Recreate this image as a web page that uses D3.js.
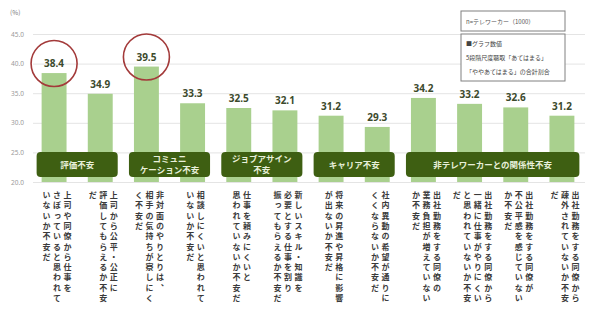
<!DOCTYPE html>
<html>
<head>
<meta charset="utf-8">
<script src="https://cdn.jsdelivr.net/npm/d3@7"></script>
<style>
  html, body { margin: 0; padding: 0; background: #fff; }
  svg { display: block; }
  text { font-family: "Noto Sans CJK JP", "Noto Sans", sans-serif; }
</style>
</head>
<body>
<svg id="chart" width="590" height="320"></svg>
<script>
// ---- data ----
const categories = [
  "上司や同僚から仕事を|さぼっていると思われて|いないか不安だ",
  "上司から公平・公正に|評価してもらえるか不安|だ",
  "非対面のやりとりは、|相手の気持ちが察しにく|く不安だ",
  "相談しにくいと思われて|いないか不安だ",
  "仕事を頼みにくいと|思われていないか不安だ",
  "新しいスキル・知識を|必要とする仕事を割り|振ってもらえるか不安だ",
  "将来の昇進や昇格に影響|が出ないか不安だ",
  "社内異動の希望が通りに|くくならないか不安だ",
  "出社勤務をする同僚の|業務負担が増えていない|か不安だ",
  "出社勤務をする同僚から|一緒に仕事がやりにくい|と思われていないか不安|だ",
  "出社勤務をする同僚が|不公平感を感じていない|か不安だ",
  "出社勤務をする同僚から|疎外されていないか不安|だ"
];
const values = [38.4, 34.9, 39.5, 33.3, 32.5, 32.1, 31.2, 29.3, 34.2, 33.2, 32.6, 31.2];
const groupNames = ["評価不安", "コミュニ|ケーション不安", "ジョブアサイン|不安", "キャリア不安", "非テレワーカーとの関係性不安"];
const groupFirst = [0, 2, 4, 6, 8];
const groupLast  = [1, 3, 5, 7, 11];
const highlighted = [0, 2];
const yTicks = [20, 25, 30, 35, 40, 45];
const unitLabel = "(%)";
const noteSample = "n=テレワーカー（1000）";
const noteLines = ["■グラフ数値", "5段階尺度聴取「あてはまる」", "「ややあてはまる」の合計割合"];

// ---- chart ----
const svg = d3.select("#chart");
const x = d3.scaleBand().domain(categories).range([31, 585]).paddingInner(0.46).paddingOuter(0.23);
const y = d3.scaleLinear().domain([20, 45]).range([182, 34]);

// gridlines + y labels via axis
const yAxis = d3.axisLeft(y).tickValues(yTicks).tickFormat(d3.format(".1f")).tickSize(-(585 - 33)).tickPadding(9);
const gy = svg.append("g").attr("transform", "translate(33,0)").call(yAxis);
gy.select(".domain").remove();
gy.selectAll(".tick line").attr("stroke", "#e4e4e4").attr("stroke-width", 1);
gy.selectAll(".tick text").attr("fill", "#9a9a9a").style("font-size", "6.5px")
  .style("font-family", "'Noto Sans', sans-serif");

svg.append("text").attr("x", 10).attr("y", 15).text(unitLabel)
  .attr("fill", "#777").style("font-size", "6.5px");

// bars
svg.append("g").selectAll("rect").data(values).join("rect")
  .attr("x", (d, i) => x(categories[i]))
  .attr("width", x.bandwidth())
  .attr("y", d => y(d))
  .attr("height", d => y(20) - y(d))
  .attr("fill", "#a9d08e");

// value labels
svg.append("g").selectAll("text").data(values).join("text")
  .attr("x", (d, i) => x(categories[i]) + x.bandwidth() / 2)
  .attr("y", d => y(d) - 6)
  .attr("text-anchor", "middle")
  .attr("fill", "#3c4a2c")
  .style("font-size", "10px").style("font-weight", "bold")
  .style("font-family", "'Noto Sans', sans-serif")
  .text(d => d.toFixed(1));

// highlight circles
svg.append("g").selectAll("circle").data(highlighted).join("circle")
  .attr("cx", i => x(categories[i]) + x.bandwidth() / 2)
  .attr("cy", i => y(values[i]) - 9.5)
  .attr("r", 23)
  .attr("fill", "none")
  .attr("stroke", "#a33a3a")
  .attr("stroke-width", 1.6);

// group boxes
const gb = svg.append("g").selectAll("g").data(groupNames).join("g");
gb.append("rect")
  .attr("x", (d, i) => x(categories[groupFirst[i]]) - 5)
  .attr("width", (d, i) => x(categories[groupLast[i]]) + x.bandwidth() + 5 - (x(categories[groupFirst[i]]) - 5))
  .attr("y", 152).attr("height", 25).attr("rx", 4)
  .attr("fill", "#3e5f12");
gb.each(function(d, i) {
  const lines = d.split("|");
  const cx = (x(categories[groupFirst[i]]) + x(categories[groupLast[i]]) + x.bandwidth()) / 2;
  const t = d3.select(this).append("text")
    .attr("text-anchor", "middle").attr("fill", "#e8f0da")
    .style("font-size", "8.5px").style("font-weight", "bold");
  lines.forEach((l, k) => {
    t.append("tspan").attr("x", cx)
      .attr("y", 164.5 + (k - (lines.length - 1) / 2) * 11 + 3)
      .text(l);
  });
});

// vertical category labels
const colStep = 10.5;
categories.forEach((c, i) => {
  const cols = c.split("|");
  const cx = x(c) + x.bandwidth() / 2 + 3;
  cols.forEach((col, k) => {
    svg.append("text")
      .attr("x", cx + ((cols.length - 1) / 2 - k) * colStep)
      .attr("y", 191)
      .style("writing-mode", "vertical-rl")
      .style("font-size", "8px")
      .style("font-weight", "bold")
      .style("letter-spacing", "2.3px")
      .attr("fill", "#3a3a3a")
      .text(col);
  });
});

// notes
svg.append("rect").attr("x", 461).attr("y", 11).attr("width", 104).attr("height", 20)
  .attr("fill", "#fff").attr("stroke", "#808080").attr("stroke-width", 1);
svg.append("text").attr("x", 466).attr("y", 23.5).text(noteSample)
  .attr("fill", "#555").style("font-size", "6px");
svg.append("rect").attr("x", 461).attr("y", 34).attr("width", 104).attr("height", 47)
  .attr("fill", "#fff").attr("stroke", "#808080").attr("stroke-width", 1);
svg.append("g").selectAll("text").data(noteLines).join("text")
  .attr("x", 466).attr("y", (d, i) => 46 + i * 14)
  .attr("fill", "#444").style("font-size", "6px")
  .text(d => d);
</script>
</body>
</html>
